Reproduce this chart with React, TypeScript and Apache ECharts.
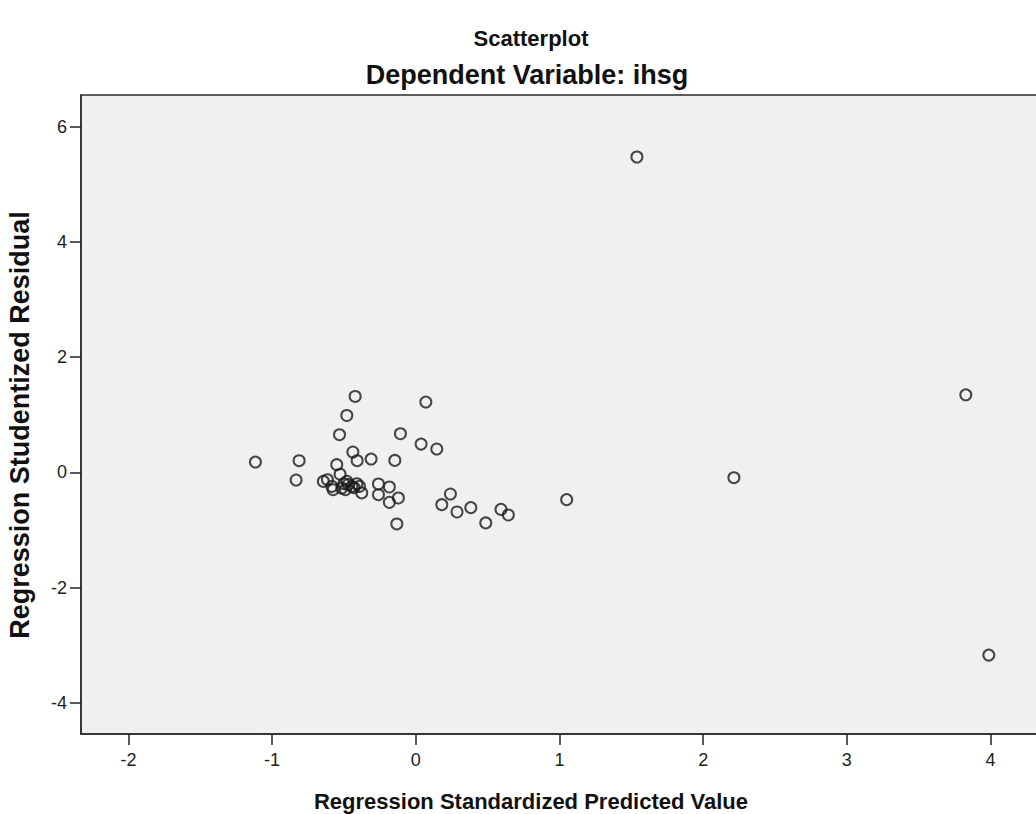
import React, { useEffect, useRef } from "react";
import * as echarts from "echarts";

// Regression Standardized Predicted Value (x) / Regression Studentized Residual (y)
const predicted: number[] = [
  1.539, 3.828, 2.214, 3.988, 1.05,
  -0.422, 0.07, -0.48, -0.531, -0.107, 0.037, 0.146, -0.438,
  -1.116, -0.812, -0.408, -0.311, -0.146, -0.55, -0.833, -0.527,
  -0.643, -0.615, -0.584, -0.515, -0.48, -0.445, -0.41, -0.392, -0.376,
  -0.26, -0.26, -0.184, -0.184, -0.121, -0.132,
  -0.575, -0.49, -0.47, -0.43, -0.5,
  0.241, 0.181, 0.287, 0.383, 0.487, 0.593, 0.644,
];
const residual: number[] = [
  5.474, 1.347, -0.092, -3.17, -0.473,
  1.318, 1.221, 0.988, 0.654, 0.671, 0.492, 0.406, 0.354,
  0.18, 0.203, 0.203, 0.232, 0.208, 0.134, -0.132, -0.031,
  -0.156, -0.127, -0.243, -0.271, -0.156, -0.243, -0.196, -0.243, -0.357,
  -0.201, -0.387, -0.253, -0.52, -0.444, -0.895,
  -0.3, -0.3, -0.21, -0.265, -0.196,
  -0.375, -0.56, -0.687, -0.612, -0.877, -0.642, -0.739,
];
const xTicks: number[] = [-2, -1, 0, 1, 2, 3, 4];
const yTicks: number[] = [-4, -2, 0, 2, 4, 6];

const chartTitle = "Scatterplot";
const chartSubtitle = "Dependent Variable: ihsg";
const xName = "Regression Standardized Predicted Value";
const yName = "Regression Studentized Residual";

export default function App() {
  const ref = useRef<HTMLDivElement>(null);
  useEffect(() => {
    document.body.style.margin = "0";
    const chart = echarts.init(ref.current!, null, { renderer: "svg" });
    const data = predicted.map((x, i) => [x, residual[i]]);
    const labelFont = "'Liberation Sans Narrow', 'Liberation Sans', Arial, sans-serif";
    const titleFont = "'Liberation Sans', Arial, sans-serif";
    chart.setOption({
      animation: false,
      backgroundColor: "#ffffff",
      grid: {
        left: 81,
        top: 95,
        right: 12,
        bottom: 80,
        show: true,
        backgroundColor: "#f0f0f0",
        borderColor: "#2b2b2b",
        borderWidth: 1.5,
        containLabel: false,
      },
      xAxis: {
        type: "value",
        min: -2.33,
        max: 4.4,
        splitLine: { show: false },
        axisLine: { show: true, onZero: false, lineStyle: { color: "#2b2b2b", width: 1.5 } },
        axisTick: {
          show: true,
          inside: false,
          length: 11,
          customValues: xTicks,
          lineStyle: { color: "#222", width: 1.5 },
        },
        axisLabel: {
          customValues: xTicks,
          margin: 17,
          fontSize: 18,
          fontFamily: labelFont,
          color: "#222",
        },
      },
      yAxis: {
        type: "value",
        min: -4.54,
        max: 6.55,
        splitLine: { show: false },
        axisLine: { show: true, onZero: false, lineStyle: { color: "#2b2b2b", width: 1.5 } },
        axisTick: {
          show: true,
          inside: false,
          length: 11,
          customValues: yTicks,
          lineStyle: { color: "#222", width: 1.5 },
        },
        axisLabel: {
          customValues: yTicks,
          margin: 14,
          fontSize: 18,
          fontFamily: labelFont,
          color: "#222",
        },
      },
      graphic: [
        {
          type: "text",
          x: 531,
          y: 38,
          style: {
            text: chartTitle,
            fontSize: 22,
            fontWeight: "bold",
            fontFamily: titleFont,
            fill: "#111",
            align: "center",
            verticalAlign: "middle",
          },
        },
        {
          type: "text",
          x: 527,
          y: 75,
          style: {
            text: chartSubtitle,
            fontSize: 27,
            fontWeight: "bold",
            fontFamily: titleFont,
            fill: "#111",
            align: "center",
            verticalAlign: "middle",
          },
        },
        {
          type: "text",
          x: 531,
          y: 801,
          style: {
            text: xName,
            fontSize: 22,
            fontWeight: "bold",
            fontFamily: titleFont,
            fill: "#111",
            align: "center",
            verticalAlign: "middle",
          },
        },
        {
          type: "text",
          x: 20,
          y: 425,
          rotation: Math.PI / 2,
          style: {
            text: yName,
            fontSize: 27,
            fontWeight: "bold",
            fontFamily: titleFont,
            fill: "#111",
            align: "center",
            verticalAlign: "middle",
          },
        },
      ],
      series: [
        {
          type: "scatter",
          data,
          symbol: "circle",
          symbolSize: 11,
          itemStyle: {
            color: "rgba(0,0,0,0)",
            borderColor: "#1a1a1a",
            borderWidth: 2,
          },
          emphasis: { disabled: true },
        },
      ],
    });
    return () => chart.dispose();
  }, []);
  return (
    <div style={{ width: 1036, height: 814, overflow: "hidden", position: "relative" }}>
      <div ref={ref} style={{ width: 1060, height: 814 }} />
    </div>
  );
}
